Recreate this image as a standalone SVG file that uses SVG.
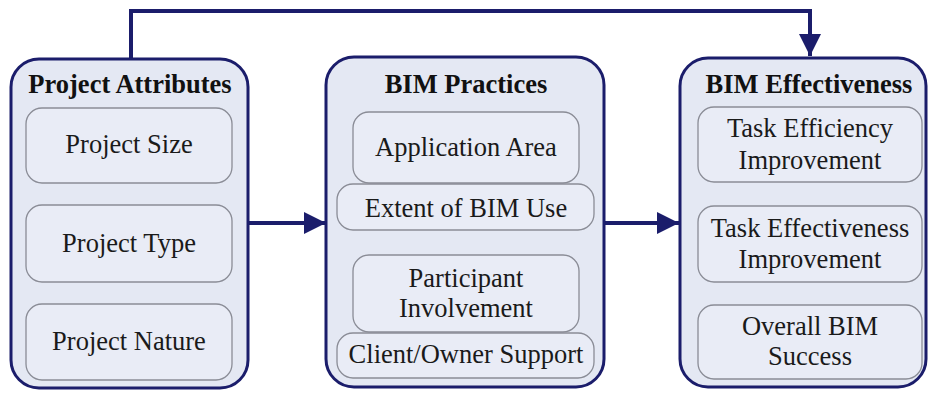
<svg xmlns="http://www.w3.org/2000/svg" width="930" height="393" viewBox="0 0 930 393">
<style>
.outer{fill:#e4e8f3;stroke:#1b1d6b;stroke-width:3}
.inner{fill:#e9ecf6;stroke:#8a8c96;stroke-width:1.3}
.title{font-family:"Liberation Serif","Times New Roman",serif;font-weight:bold;font-size:26.5px;fill:#111;text-anchor:middle}
.lbl{font-family:"Liberation Serif","Times New Roman",serif;font-size:26.5px;fill:#1a1a1a;text-anchor:middle}
.conn{fill:none;stroke:#1b1d6b;stroke-width:4}
</style>
<defs>
<marker id="ah" viewBox="0 0 22 22" refX="22" refY="11" markerWidth="22" markerHeight="22" markerUnits="userSpaceOnUse" orient="auto">
<path d="M0,0 L22,11 L0,22 Z" fill="#1b1d6b"/>
</marker>
</defs>
<rect width="930" height="393" fill="#ffffff"/>
<g id="connectors">
<path class="conn" d="M131,59 V11 H810 V56" marker-end="url(#ah)"/>
<path class="conn" d="M248,223 H326" marker-end="url(#ah)"/>
<path class="conn" d="M604,223 H679" marker-end="url(#ah)"/>
</g>
<g id="project-attributes">
<rect class="outer" x="11" y="59" width="237" height="329" rx="28"/>
<text class="title" x="130" y="93">Project Attributes</text>
<g id="project-size"><rect class="inner" x="26" y="108" width="206" height="75" rx="16"/><text class="lbl" x="129" y="153">Project Size</text></g>
<g id="project-type"><rect class="inner" x="26" y="205" width="206" height="77" rx="16"/><text class="lbl" x="129" y="252">Project Type</text></g>
<g id="project-nature"><rect class="inner" x="26" y="304" width="206" height="76" rx="16"/><text class="lbl" x="129" y="350">Project Nature</text></g>
</g>
<g id="bim-practices">
<rect class="outer" x="326" y="57" width="278" height="330" rx="28"/>
<text class="title" x="466" y="93">BIM Practices</text>
<g id="application-area"><rect class="inner" x="353" y="112" width="226" height="71" rx="16"/><text class="lbl" x="466" y="156">Application Area</text></g>
<g id="extent-of-bim-use"><rect class="inner" x="337" y="184" width="257" height="46" rx="16"/><text class="lbl" x="466" y="217">Extent of BIM Use</text></g>
<g id="participant-involvement"><rect class="inner" x="353" y="255" width="226" height="77" rx="16"/><text class="lbl" x="466" y="287">Participant</text><text class="lbl" x="466" y="317">Involvement</text></g>
<g id="client-owner-support"><rect class="inner" x="337" y="333" width="257" height="45" rx="16"/><text class="lbl" x="466" y="363">Client/Owner Support</text></g>
</g>
<g id="bim-effectiveness">
<rect class="outer" x="680" y="58" width="246" height="329" rx="28"/>
<text class="title" x="809" y="93">BIM Effectiveness</text>
<g id="task-efficiency"><rect class="inner" x="698" y="107" width="224" height="75" rx="16"/><text class="lbl" x="810" y="137">Task Efficiency</text><text class="lbl" x="810" y="169">Improvement</text></g>
<g id="task-effectiveness"><rect class="inner" x="698" y="206" width="224" height="76" rx="16"/><text class="lbl" x="810" y="237">Task Effectiveness</text><text class="lbl" x="810" y="268">Improvement</text></g>
<g id="overall-bim-success"><rect class="inner" x="698" y="305" width="224" height="74" rx="16"/><text class="lbl" x="810" y="335">Overall BIM</text><text class="lbl" x="810" y="365">Success</text></g>
</g>
</svg>
